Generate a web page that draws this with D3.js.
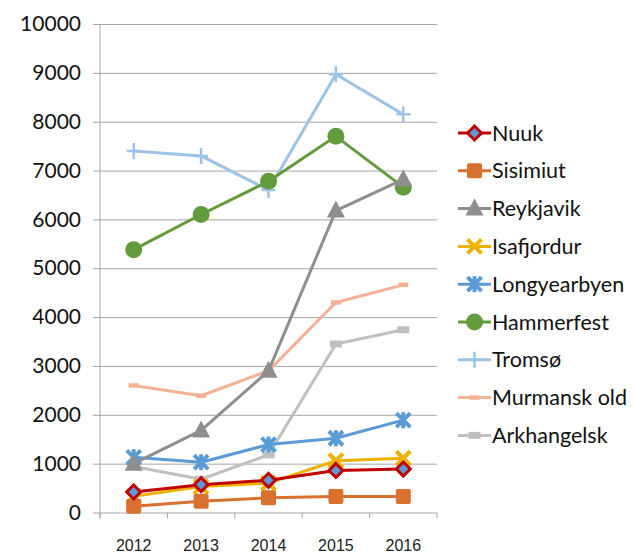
<!DOCTYPE html>
<html>
<head>
<meta charset="utf-8">
<script src="https://cdn.jsdelivr.net/npm/d3@7"></script>
<style>
  body { margin: 0; background: #fff; }
  .ytick text { font-family: Lato, "Open Sans", sans-serif; font-size: 21px; fill: #111; }
  .xtick text { font-family: "Liberation Sans", Arial, sans-serif; font-size: 16px; fill: #222; }
  .legend text { font-family: Lato, "Open Sans", sans-serif; font-size: 21.5px; fill: #111; }
</style>
</head>
<body>
<div id="chart"></div>
<script>
// data
var years = ["2012", "2013", "2014", "2015", "2016"];
var yTicks = [0, 1000, 2000, 3000, 4000, 5000, 6000, 7000, 8000, 9000, 10000];

var nuuk = [420, 570, 660, 860, 890];
var sisimiut = [130, 230, 300, 330, 330];
var reykjavik = [1000, 1680, 2900, 6180, 6820];
var isafjordur = [330, 530, 600, 1060, 1110];
var longyearbyen = [1130, 1030, 1390, 1520, 1890];
var hammerfest = [5380, 6100, 6780, 7700, 6660];
var tromso = [7400, 7300, 6600, 8970, 8150];
var murmansk = [2600, 2390, 2900, 4300, 4660];
var arkhangelsk = [940, 680, 1180, 3450, 3740];

var series = [
  { name: "Nuuk", values: nuuk, color: "#C00000", marker: "diamond" },
  { name: "Sisimiut", values: sisimiut, color: "#D9712E", marker: "square" },
  { name: "Reykjavik", values: reykjavik, color: "#8E8E8E", marker: "triangle" },
  { name: "Isafjordur", values: isafjordur, color: "#EDB200", marker: "x" },
  { name: "Longyearbyen", values: longyearbyen, color: "#5B9BD5", marker: "star" },
  { name: "Hammerfest", values: hammerfest, color: "#629B3C", marker: "circle" },
  { name: "Tromsø", values: tromso, color: "#9DC3E6", marker: "plus" },
  { name: "Murmansk old", values: murmansk, color: "#F4B194", marker: "dash" },
  { name: "Arkhangelsk", values: arkhangelsk, color: "#C0C0C0", marker: "bar" }
];

var svgWidth = 634;
var svgHeight = 554;

var margin = { top: 24, left: 100 };
var width = 337;
var height = 488.5;

var svg = d3.select("#chart")
  .append("svg")
  .attr("width", svgWidth)
  .attr("height", svgHeight);

var chartGroup = svg.append("g")
  .attr("transform", `translate(${margin.left}, ${margin.top})`);

var xBand = d3.scaleBand()
  .domain(years)
  .range([0, width]);

var yScale = d3.scaleLinear()
  .domain([0, 10000])
  .range([height, 0]);

// gridlines + left axis
var leftAxis = d3.axisLeft(yScale)
  .tickValues(yTicks)
  .tickSize(-width)
  .tickSizeOuter(0)
  .tickPadding(19)
  .tickFormat(d3.format("d"));

var yAxisG = chartGroup.append("g")
  .attr("class", "ytick")
  .call(leftAxis);
yAxisG.select(".domain").remove();
yAxisG.selectAll("line").attr("stroke", "#a6a6a6").attr("x1", -7);

chartGroup.append("line")
  .attr("x1", 0).attr("x2", 0)
  .attr("y1", 0).attr("y2", height + 6)
  .attr("stroke", "#a6a6a6");

// bottom axis with category ticks between bands
var bottomAxis = d3.axisBottom(xBand).tickSize(0).tickPadding(27);
var xAxisG = chartGroup.append("g")
  .attr("class", "xtick")
  .attr("transform", `translate(0, ${height})`)
  .call(bottomAxis);
xAxisG.select(".domain").remove();

var edges = years.map(d => xBand(d)).concat([width]);
chartGroup.selectAll(".xsep")
  .data(edges)
  .enter()
  .append("line")
  .attr("x1", d => d).attr("x2", d => d)
  .attr("y1", height).attr("y2", height + 6)
  .attr("stroke", "#a6a6a6");

var xPos = d => xBand(d) + xBand.bandwidth() / 2;

var line = d3.line()
  .x((d, i) => xPos(years[i]))
  .y(d => yScale(d));

function drawMarker(g, type, color) {
  if (type === "diamond") {
    g.append("path").attr("d", "M0,-7L7,0L0,7L-7,0Z")
      .attr("fill", "#5B9BD5").attr("stroke", color).attr("stroke-width", 3);
  } else if (type === "square") {
    g.append("rect").attr("x", -7.5).attr("y", -7.5).attr("width", 15).attr("height", 15)
      .attr("rx", 2).attr("fill", color);
  } else if (type === "triangle") {
    g.append("path").attr("d", "M0,-10L9,7L-9,7Z").attr("fill", color);
  } else if (type === "x") {
    g.append("path").attr("d", "M-7,-7L7,7M-7,7L7,-7")
      .attr("stroke", color).attr("stroke-width", 4);
  } else if (type === "star") {
    g.append("path").attr("d", "M-7,-7L7,7M-7,7L7,-7M0,-8L0,8")
      .attr("stroke", color).attr("stroke-width", 4);
  } else if (type === "circle") {
    g.append("circle").attr("r", 8.5).attr("fill", color);
  } else if (type === "plus") {
    g.append("path").attr("d", "M-7,0L7,0M0,-8L0,8")
      .attr("stroke", color).attr("stroke-width", 2.5);
  } else if (type === "dash") {
    g.append("path").attr("d", "M-5,0L5,0")
      .attr("stroke", color).attr("stroke-width", 4.5);
  } else if (type === "bar") {
    g.append("path").attr("d", "M-6,0L6,0")
      .attr("stroke", color).attr("stroke-width", 7);
  }
}

// lines and markers, drawn in reverse so Nuuk lands on top
series.slice().reverse().forEach(function(s) {
  chartGroup.append("path")
    .datum(s.values)
    .attr("fill", "none")
    .attr("stroke", s.color)
    .attr("stroke-width", 3)
    .attr("stroke-linejoin", "round")
    .attr("d", line);

  s.values.forEach(function(v, i) {
    var g = chartGroup.append("g")
      .attr("transform", `translate(${xPos(years[i])}, ${yScale(v)})`);
    drawMarker(g, s.marker, s.color);
  });
});

// legend
var legend = svg.append("g")
  .attr("class", "legend")
  .attr("transform", "translate(458, 133)");

series.forEach(function(s, i) {
  var item = legend.append("g")
    .attr("transform", `translate(0, ${i * 37.8})`);
  item.append("line")
    .attr("x1", 0).attr("x2", 33)
    .attr("stroke", s.color)
    .attr("stroke-width", 3);
  var m = item.append("g").attr("transform", "translate(16.5, 0)");
  drawMarker(m, s.marker, s.color);
  item.append("text")
    .attr("x", 34)
    .attr("dy", "0.35em")
    .text(s.name);
});
</script>
</body>
</html>
